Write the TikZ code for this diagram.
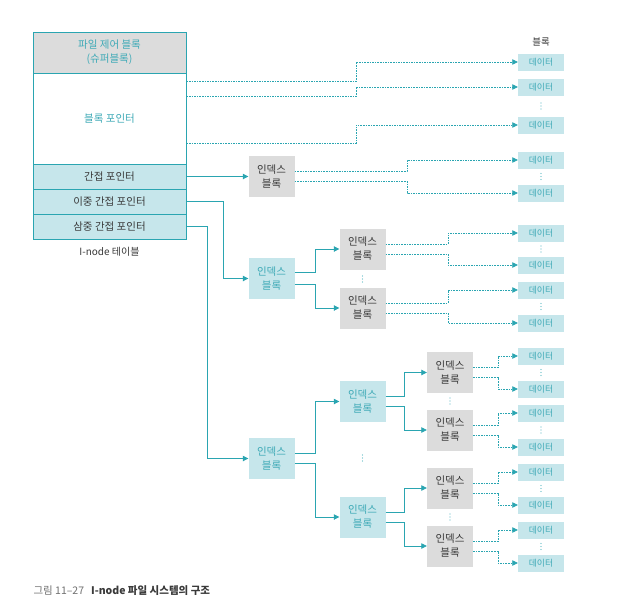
\documentclass[tikz,border=0pt]{standalone}
\usepackage{fontspec}
\setmainfont{Noto Sans CJK KR}
\usetikzlibrary{arrows.meta,positioning}
\definecolor{tealline}{HTML}{2AA5B1}
\definecolor{tealfill}{HTML}{C6E6EB}
\definecolor{tealtext}{HTML}{3FAAB7}
\definecolor{graybox}{HTML}{DCDCDC}
\definecolor{darktext}{HTML}{3A3A3A}
\definecolor{captgray}{HTML}{707070}

\begin{document}
\begin{tikzpicture}[x=1pt,y=-1pt,
    cell/.style={draw=tealline,line width=0.8pt,minimum width=153pt,inner sep=0pt,
      font=\fontsize{10.5}{14}\selectfont},
    databox/.style={fill=tealfill,minimum width=46pt,minimum height=17pt,inner sep=0pt,
      text=tealtext,font=\fontsize{8.8}{10}\selectfont},
    idxgray/.style={fill=graybox,minimum width=46pt,minimum height=41pt,inner sep=0pt,
      align=center,text=darktext,font=\fontsize{10.5}{14}\selectfont},
    idxteal/.style={idxgray,fill=tealfill,text=tealtext},
    sline/.style={draw=tealline,line width=0.8pt,-{Triangle[length=5.5pt,width=5.5pt]}},
    dline/.style={sline,line width=0.7pt,dash pattern=on 1.6pt off 1pt}]
\useasboundingbox (0,0) rectangle (618,600);

% i-node table
\node[cell,fill=graybox,minimum height=41pt,text=tealtext,align=center] (fcb) at (109.5,52.5) {파일 제어 블록\\(슈퍼블록)};
\node[cell,fill=white,minimum height=91pt,text=tealtext] (ptr) at (109.5,118.5) {블록 포인터};
\node[cell,fill=tealfill,minimum height=25pt,text=darktext] (ind1) at (109.5,176.5) {간접 포인터};
\node[cell,fill=tealfill,minimum height=25pt,text=darktext] (ind2) at (109.5,201.5) {이중 간접 포인터};
\node[cell,fill=tealfill,minimum height=25pt,text=darktext] (ind3) at (109.5,226.5) {삼중 간접 포인터};
\node[below=4pt of ind3,text=darktext,font=\fontsize{10}{12}\selectfont] (tbl) {I-node 테이블};

% data blocks
\foreach \n/\y in {d1/62,d2/87,d3/125,d4/160,d5/193,d6/233,d7/265,d8/290,d9/323,
    d10/356,d11/389,d12/413,d13/447,d14/472,d15/505,d16/530,d17/563}
  \node[databox] (\n) at (541,\y) {데이터};
\node[text=darktext,font=\fontsize{9.5}{11}\selectfont] (blk) at (541,42) {블록};

% index blocks
\node[idxgray] (x1) at (271.5,176.5) {인덱스\\블록};
\node[idxteal] (x2) at (271.5,278.5) {인덱스\\블록};
\node[idxgray] (x21) at (362.5,249) {인덱스\\블록};
\node[idxgray] (x22) at (362.5,308) {인덱스\\블록};
\node[idxteal] (x3) at (271.5,458.5) {인덱스\\블록};
\node[idxteal] (x31) at (362.5,401.5) {인덱스\\블록};
\node[idxteal] (x32) at (362.5,517) {인덱스\\블록};
\node[idxgray] (x311) at (450,372.5) {인덱스\\블록};
\node[idxgray] (x312) at (450,430) {인덱스\\블록};
\node[idxgray] (x321) at (450,488) {인덱스\\블록};
\node[idxgray] (x322) at (450,546) {인덱스\\블록};

% bend columns
\coordinate (c0) at (356,0);
\coordinate (c1) at (407,0);
\coordinate (c2) at (448,0);
\coordinate (c3) at (498,0);
\coordinate (s2) at (223,0);
\coordinate (s3) at (207,0);
\coordinate (s4) at (315,0);
\coordinate (s5) at (404,0);

% direct pointers
\draw[dline] ([yshift=-9pt]ptr.north east) -| (c0 |- d1) -- (d1);
\draw[dline] ([yshift=-24pt]ptr.north east) -| (c0 |- d2) -- (d2);
\draw[dline] ([yshift=21pt]ptr.south east) -| (c0 |- d3) -- (d3);

% single indirect
\draw[sline] (ind1) -- (x1);
\draw[dline] ([yshift=5pt]x1.east) -| (c1 |- d4) -- (d4);
\draw[dline] ([yshift=-5pt]x1.east) -| (c1 |- d5) -- (d5);

% double indirect
\draw[sline] (ind2.east) -| (s2 |- x2) -- (x2);
\draw[sline] ([yshift=6pt]x2.east) -| (s4 |- x21) -- (x21);
\draw[sline] ([yshift=-6pt]x2.east) -| (s4 |- x22) -- (x22);
\draw[dline] ([yshift=5pt]x21.east) -| (c2 |- d6) -- (d6);
\draw[dline] ([yshift=-5pt]x21.east) -| (c2 |- d7) -- (d7);
\draw[dline] ([yshift=5pt]x22.east) -| (c2 |- d8) -- (d8);
\draw[dline] ([yshift=-5pt]x22.east) -| (c2 |- d9) -- (d9);

% triple indirect
\draw[sline] (ind3.east) -| (s3 |- x3) -- (x3);
\draw[sline] ([yshift=5pt]x3.east) -| (s4 |- x31) -- (x31);
\draw[sline] ([yshift=-5pt]x3.east) -| (s4 |- x32) -- (x32);
\draw[sline] ([yshift=5pt]x31.east) -| (s5 |- x311) -- (x311);
\draw[sline] ([yshift=-5pt]x31.east) -| (s5 |- x312) -- (x312);
\draw[sline] ([yshift=5pt]x32.east) -| (s5 |- x321) -- (x321);
\draw[sline] ([yshift=-5pt]x32.east) -| (s5 |- x322) -- (x322);
\draw[dline] ([yshift=5pt]x311.east) -| (c3 |- d10) -- (d10);
\draw[dline] ([yshift=-5pt]x311.east) -| (c3 |- d11) -- (d11);
\draw[dline] ([yshift=5pt]x312.east) -| (c3 |- d12) -- (d12);
\draw[dline] ([yshift=-5pt]x312.east) -| (c3 |- d13) -- (d13);
\draw[dline] ([yshift=5pt]x321.east) -| (c3 |- d14) -- (d14);
\draw[dline] ([yshift=-5pt]x321.east) -| (c3 |- d15) -- (d15);
\draw[dline] ([yshift=5pt]x322.east) -| (c3 |- d16) -- (d16);
\draw[dline] ([yshift=-5pt]x322.east) -| (c3 |- d17) -- (d17);

% ellipsis dots
\foreach \x/\y in {541/106,541/176.5,541/249,541/306.5,541/372.5,541/430,541/488.5,541/546.5,
    362.5/279,362.5/458,450/401,450/517}
  \foreach \k in {-3,0,3}
    \fill[tealline!80] (\x,\y+\k) circle (0.6pt);

% caption
\node[anchor=west,font=\fontsize{10.5}{12}\selectfont] (cap) at (30,591)
  {\textcolor{captgray}{그림 11–27}\hspace{7pt}\textcolor{darktext}{\textbf{I-node 파일 시스템의 구조}}};
\end{tikzpicture}
\end{document}
